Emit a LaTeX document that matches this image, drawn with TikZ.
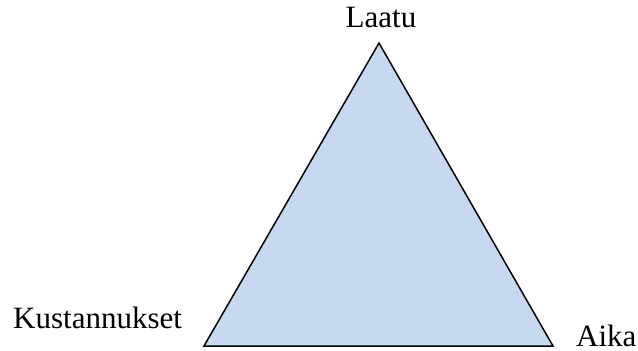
\documentclass[tikz,border=0pt]{standalone}
\usepackage{fontspec}
\setmainfont{Liberation Serif}
\definecolor{trifill}{HTML}{C6D9F1}
\tikzset{lbl/.style={inner sep=0pt, font=\fontsize{31}{36}\selectfont}}
\begin{document}
\begin{tikzpicture}[x=1pt,y=-1pt]
\useasboundingbox (0,0) rectangle (638,351);
\coordinate (top) at (379,43);
\coordinate (bl) at (204,346);
\coordinate (br) at (553,346);
\filldraw[fill=trifill, draw=black, line width=1.5pt, line join=miter] (top) -- (br) -- (bl) -- cycle;
\node[lbl, anchor=base] (laatu) at (381,27) {Laatu};
\node[lbl, anchor=base west] (kust) at (13,328) {Kustannukset};
\node[lbl, anchor=base west] (aika) at (576,346) {Aika};
\end{tikzpicture}
\end{document}
